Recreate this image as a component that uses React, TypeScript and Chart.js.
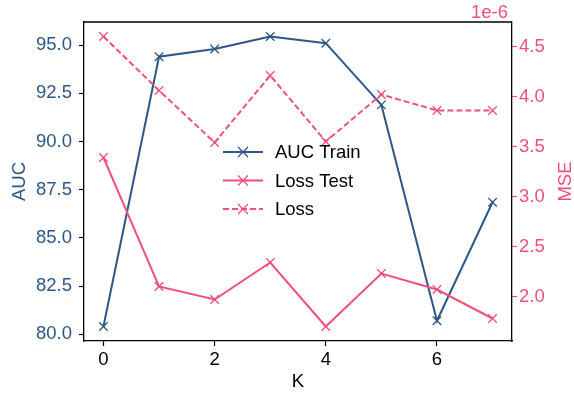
import React, { useEffect, useRef } from "react";
import { Chart, registerables } from "chart.js";
Chart.register(...registerables);

const K = [0, 1, 2, 3, 4, 5, 6, 7];
const aucTrain = [80.4, 94.4, 94.8, 95.45, 95.1, 91.9, 80.7, 86.85];
const lossTest = [3.39e-6, 2.1e-6, 1.97e-6, 2.34e-6, 1.7e-6, 2.23e-6, 2.07e-6, 1.78e-6];
const loss = [4.6e-6, 4.06e-6, 3.54e-6, 4.21e-6, 3.55e-6, 4.02e-6, 3.86e-6, 3.86e-6];
const xTicks = [0, 2, 4, 6];
const leftTicks = [80, 82.5, 85, 87.5, 90, 92.5, 95];
const rightTicks = [2.0e-6, 2.5e-6, 3.0e-6, 3.5e-6, 4.0e-6, 4.5e-6];
const seriesNames = ["AUC Train", "Loss Test", "Loss"];

const BLUE = "#2d5785";
const PINK = "#f0507a";
const FONT = "'Liberation Sans', Arial, Helvetica, sans-serif";
const FS = 18.5;

export default function App() {
  const ref = useRef<HTMLCanvasElement>(null);
  useEffect(() => {
    const canvas = ref.current!;
    const overlay = {
      id: "overlay",
      afterDraw(chart: any) {
        const { ctx, chartArea } = chart;
        const { left, top, right, bottom } = chartArea;
        ctx.save();
        ctx.strokeStyle = "#000";
        ctx.lineWidth = 1.3;
        ctx.beginPath();
        ctx.moveTo(left, top);
        ctx.lineTo(right, top);
        ctx.stroke();
        ctx.font = `${FS}px ${FONT}`;
        const cy = (top + bottom) / 2;
        const cx = (left + right) / 2;
        ctx.save();
        ctx.translate(20, cy);
        ctx.rotate(-Math.PI / 2);
        ctx.fillStyle = BLUE;
        ctx.textAlign = "center";
        ctx.textBaseline = "middle";
        ctx.fillText("AUC", 0, 0);
        ctx.restore();
        ctx.save();
        ctx.translate(566, cy);
        ctx.rotate(-Math.PI / 2);
        ctx.fillStyle = PINK;
        ctx.textAlign = "center";
        ctx.textBaseline = "middle";
        ctx.fillText("MSE", 0, 0);
        ctx.restore();
        ctx.fillStyle = "#000";
        ctx.textAlign = "center";
        ctx.textBaseline = "middle";
        ctx.fillText("K", cx, 382);
        ctx.fillStyle = PINK;
        ctx.textAlign = "right";
        ctx.textBaseline = "alphabetic";
        ctx.fillText("1e-6", 508, 18);
        const rows = [
          { c: BLUE, dash: [] as number[] },
          { c: PINK, dash: [] as number[] },
          { c: PINK, dash: [6, 3] },
        ];
        rows.forEach((r, i) => {
          const y = 152 + i * 28.5;
          ctx.strokeStyle = r.c;
          ctx.lineWidth = 2;
          ctx.setLineDash(r.dash);
          ctx.beginPath();
          ctx.moveTo(223, y);
          ctx.lineTo(263, y);
          ctx.stroke();
          ctx.setLineDash([]);
          ctx.lineWidth = 1.3;
          ctx.beginPath();
          ctx.moveTo(238, y - 5);
          ctx.lineTo(248, y + 5);
          ctx.moveTo(238, y + 5);
          ctx.lineTo(248, y - 5);
          ctx.stroke();
          ctx.fillStyle = "#000";
          ctx.textAlign = "left";
          ctx.textBaseline = "middle";
          ctx.fillText(seriesNames[i], 275, y + 1);
        });
        ctx.restore();
      },
    };
    const mk = (arr: number[]) => K.map((k, i) => ({ x: k, y: arr[i] }));
    const chart = new Chart(canvas, {
      type: "line",
      data: {
        datasets: [
          {
            label: seriesNames[0], data: mk(aucTrain), yAxisID: "y", borderColor: BLUE,
            borderWidth: 2, pointStyle: "crossRot", pointRadius: 6, pointBorderWidth: 1.3,
            pointBorderColor: BLUE, backgroundColor: BLUE, order: 2,
          },
          {
            label: seriesNames[1], data: mk(lossTest), yAxisID: "y1", borderColor: PINK,
            borderWidth: 2, pointStyle: "crossRot", pointRadius: 6, pointBorderWidth: 1.3,
            pointBorderColor: PINK, backgroundColor: PINK, order: 1,
          },
          {
            label: seriesNames[2], data: mk(loss), yAxisID: "y1", borderColor: PINK,
            borderWidth: 2, borderDash: [6, 3], pointStyle: "crossRot", pointRadius: 6,
            pointBorderWidth: 1.3, pointBorderColor: PINK, backgroundColor: PINK, order: 0,
          },
        ],
      },
      options: {
        responsive: false,
        animation: false,
        layout: { padding: { top: 22, left: 0, right: 0, bottom: 0 } },
        plugins: { legend: { display: false }, tooltip: { enabled: false } },
        scales: {
          x: {
            type: "linear", min: -0.35, max: 7.35,
            afterBuildTicks: (a: any) => { a.ticks = xTicks.map((v) => ({ value: v })); },
            afterFit: (s: any) => { s.height = 55; },
            grid: { drawOnChartArea: false, tickLength: 5, tickColor: "#000", tickWidth: 1.2 },
            border: { color: "#000", width: 1.3 },
            ticks: { color: "#000", font: { family: FONT, size: FS }, padding: 3, callback: (v: any) => String(v) },
          },
          y: {
            type: "linear", position: "left", min: 79.65, max: 96.2,
            afterBuildTicks: (a: any) => { a.ticks = leftTicks.map((v) => ({ value: v })); },
            afterFit: (s: any) => { s.width = 84; },
            grid: { drawOnChartArea: false, tickLength: 5, tickColor: "#000", tickWidth: 1.2 },
            border: { color: "#000", width: 1.3 },
            ticks: { color: BLUE, font: { family: FONT, size: FS }, padding: 7, callback: (v: any) => Number(v).toFixed(1) },
          },
          y1: {
            type: "linear", position: "right", min: 1.555e-6, max: 4.745e-6,
            afterBuildTicks: (a: any) => { a.ticks = rightTicks.map((v) => ({ value: v })); },
            afterFit: (s: any) => { s.width = 62; },
            grid: { drawOnChartArea: false, tickLength: 5, tickColor: PINK, tickWidth: 1.2 },
            border: { color: "#000", width: 1.3 },
            ticks: { color: PINK, font: { family: FONT, size: FS }, padding: 2, callback: (v: any) => (Number(v) * 1e6).toFixed(1) },
          },
        },
      },
      plugins: [overlay],
    } as any);
    return () => chart.destroy();
  }, []);
  return (
    <div style={{ position: "absolute", left: 0, top: 0, width: 574, height: 396, background: "#fff" }}>
      <canvas ref={ref} width={574} height={396} />
    </div>
  );
}
